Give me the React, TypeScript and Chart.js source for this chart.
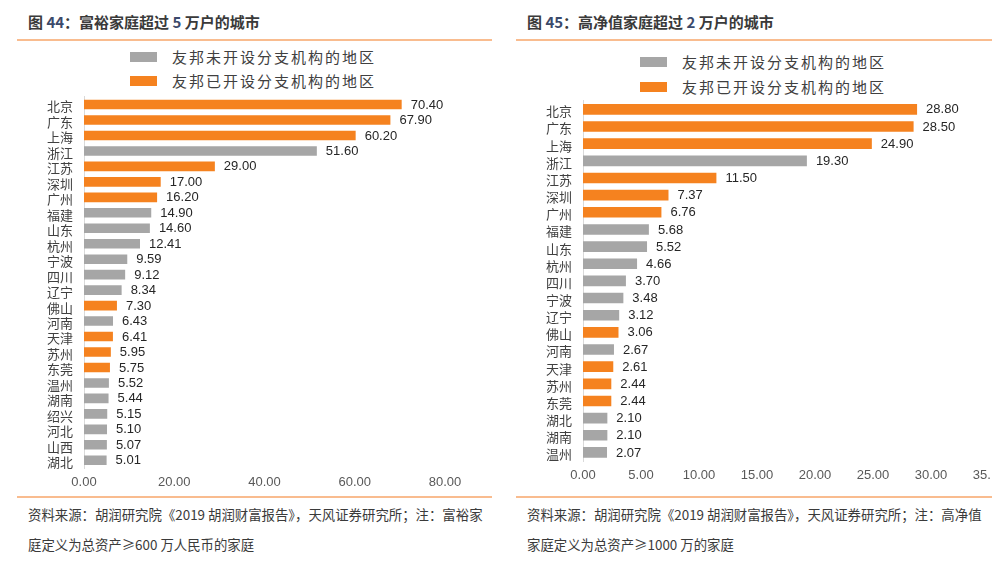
import React, { useEffect, useRef } from "react";
import { Chart, registerables } from "chart.js";

Chart.register(...registerables);

const ORANGE = "#F5821F";
const GRAY = "#A6A6A6";
const LEGEND_LABELS = ["友邦未开设分支机构的地区", "友邦已开设分支机构的地区"];

// 图44 富裕家庭超过5万户的城市
const leftCategories = ["北京", "广东", "上海", "浙江", "江苏", "深圳", "广州", "福建", "山东", "杭州", "宁波", "四川", "辽宁", "佛山", "河南", "天津", "苏州", "东莞", "温州", "湖南", "绍兴", "河北", "山西", "湖北"];
const leftValues = [70.4, 67.9, 60.2, 51.6, 29.0, 17.0, 16.2, 14.9, 14.6, 12.41, 9.59, 9.12, 8.34, 7.3, 6.43, 6.41, 5.95, 5.75, 5.52, 5.44, 5.15, 5.1, 5.07, 5.01];
const leftHasBranch = [1, 1, 1, 0, 1, 1, 1, 0, 0, 0, 0, 0, 0, 1, 0, 1, 1, 1, 0, 0, 0, 0, 0, 0];
const leftAxisMax = 80;
const leftAxisStep = 20;

// 图45 高净值家庭超过2万户的城市
const rightCategories = ["北京", "广东", "上海", "浙江", "江苏", "深圳", "广州", "福建", "山东", "杭州", "四川", "宁波", "辽宁", "佛山", "河南", "天津", "苏州", "东莞", "湖北", "湖南", "温州"];
const rightValues = [28.8, 28.5, 24.9, 19.3, 11.5, 7.37, 6.76, 5.68, 5.52, 4.66, 3.7, 3.48, 3.12, 3.06, 2.67, 2.61, 2.44, 2.44, 2.1, 2.1, 2.07];
const rightHasBranch = [1, 1, 1, 0, 1, 1, 1, 0, 0, 0, 0, 0, 0, 1, 0, 1, 1, 1, 0, 0, 0];
const rightAxisMax = 35;
const rightAxisStep = 5;

const CHART_FONT = "'Liberation Sans', 'Noto Sans CJK SC', sans-serif";
const CJK_FONT = "'Noto Sans CJK SC', 'Liberation Sans', sans-serif";

type PanelProps = {
  categories: string[];
  values: number[];
  hasBranch: number[];
  max: number;
  step: number;
  width: number;
  height: number;
  yAxisWidth: number;
  xAxisHeight: number;
  padTop: number;
  padRight: number;
  yLabelPad: number;
};

const valueLabelPlugin = {
  id: "valueLabels",
  afterDatasetsDraw(chart: any) {
    const ctx = chart.ctx;
    ctx.save();
    ctx.font = `13px ${CHART_FONT}`;
    ctx.fillStyle = "#262626";
    ctx.textAlign = "left";
    ctx.textBaseline = "middle";
    chart.data.datasets.forEach((ds: any, di: number) => {
      const meta = chart.getDatasetMeta(di);
      meta.data.forEach((el: any, i: number) => {
        const v = ds.data[i];
        if (v === null || v === undefined) return;
        ctx.fillText(Number(v).toFixed(2), el.x + 9, el.y + 0.5);
      });
    });
    ctx.restore();
  },
};

function BarPanel(p: PanelProps) {
  const ref = useRef<HTMLCanvasElement | null>(null);
  useEffect(() => {
    if (!ref.current) return;
    const gray = p.values.map((v, i) => (p.hasBranch[i] ? null : v));
    const orange = p.values.map((v, i) => (p.hasBranch[i] ? v : null));
    const chart = new Chart(ref.current, {
      type: "bar",
      data: {
        labels: p.categories,
        datasets: [
          { label: LEGEND_LABELS[0], data: gray as any, backgroundColor: GRAY, grouped: false, barPercentage: 0.62, categoryPercentage: 1 } as any,
          { label: LEGEND_LABELS[1], data: orange as any, backgroundColor: ORANGE, grouped: false, barPercentage: 0.62, categoryPercentage: 1 } as any,
        ],
      },
      options: {
        indexAxis: "y",
        responsive: false,
        animation: false,
        layout: { padding: { top: p.padTop, right: p.padRight, left: 0, bottom: 0 } },
        plugins: { legend: { display: false }, tooltip: { enabled: false } },
        scales: {
          x: {
            min: 0,
            max: p.max,
            grid: { display: false, drawTicks: false },
            border: { display: false },
            ticks: {
              stepSize: p.step,
              padding: 7,
              color: "#595959",
              font: { size: 13, family: CHART_FONT },
              callback: (v: any) => Number(v).toFixed(2),
              maxRotation: 0,
            },
            afterFit: (s: any) => {
              s.height = p.xAxisHeight;
            },
          },
          y: {
            grid: { display: false, drawTicks: false },
            border: { display: true, color: "#D9D9D9", width: 1 },
            ticks: {
              padding: p.yLabelPad,
              color: "#404040",
              font: { size: 13, family: CJK_FONT },
              autoSkip: false,
              labelOffset: 2,
            },
            afterFit: (s: any) => {
              s.width = p.yAxisWidth;
            },
          },
        },
      },
      plugins: [valueLabelPlugin],
    });
    return () => chart.destroy();
  }, []);
  return <canvas ref={ref} width={p.width} height={p.height} style={{ display: "block", width: p.width, height: p.height }} />;
}

function Legend({ left, top, gap }: { left: number; top: number; gap: number }) {
  const colors = [GRAY, ORANGE];
  return (
    <>
      {LEGEND_LABELS.map((t, i) => (
        <div key={t} style={{ position: "absolute", left, top: top + i * gap, height: 20, display: "flex", alignItems: "center" }}>
          <div style={{ width: 27, height: 10, background: colors[i] }} />
          <div style={{ marginLeft: 15, fontFamily: CJK_FONT, fontSize: 15, letterSpacing: 2, color: "#404040", whiteSpace: "nowrap", lineHeight: "20px" }}>{t}</div>
        </div>
      ))}
    </>
  );
}

const numStyle = { color: "#3B4A6B" };

export default function App() {
  const titleStyle: React.CSSProperties = { position: "absolute", top: 12, fontFamily: CJK_FONT, fontWeight: 700, fontSize: 15, color: "#3A3A3A", whiteSpace: "nowrap", lineHeight: "20px" };
  const footStyle: React.CSSProperties = { position: "absolute", fontFamily: CJK_FONT, fontSize: 13.4, color: "#3A3A3A", whiteSpace: "nowrap", lineHeight: "20px" };
  const line = (left: number, top: number, width: number): React.CSSProperties => ({ position: "absolute", left, top, width, height: 2, background: "#F9BC8F" });
  return (
    <div style={{ position: "absolute", left: 0, top: 0, width: 1008, height: 569, background: "#FFFFFF", overflow: "hidden" }}>
      <div style={{ ...titleStyle, left: 28 }}>
        图 <span style={numStyle}>44</span>：富裕家庭超过 <span style={numStyle}>5</span> 万户的城市
      </div>
      <div style={{ ...titleStyle, left: 527 }}>
        图 <span style={numStyle}>45</span>：高净值家庭超过 <span style={numStyle}>2</span> 万户的城市
      </div>
      <div style={line(17, 39, 475)} />
      <div style={line(516, 39, 476)} />

      <Legend left={130} top={47} gap={24} />
      <Legend left={640} top={52} gap={25} />

      <div style={{ position: "absolute", left: 0, top: 78, width: 500, height: 412, overflow: "hidden" }}>
        <BarPanel categories={leftCategories} values={leftValues} hasBranch={leftHasBranch} max={leftAxisMax} step={leftAxisStep}
          width={500} height={412} yAxisWidth={84} xAxisHeight={22} padTop={6} padRight={55} yLabelPad={11} />
      </div>
      <div style={{ position: "absolute", left: 500, top: 82, width: 491, height: 408, overflow: "hidden" }}>
        <BarPanel categories={rightCategories} values={rightValues} hasBranch={rightHasBranch} max={rightAxisMax} step={rightAxisStep}
          width={520} height={408} yAxisWidth={83} xAxisHeight={29} padTop={10} padRight={31} yLabelPad={11} />
      </div>

      <div style={line(17, 496, 475)} />
      <div style={line(516, 496, 476)} />

      <div style={{ ...footStyle, left: 28, top: 504 }}>资料来源：胡润研究院《2019 胡润财富报告》，天风证券研究所；注：富裕家</div>
      <div style={{ ...footStyle, left: 28, top: 534 }}>庭定义为总资产≥600 万人民币的家庭</div>
      <div style={{ ...footStyle, left: 527, top: 504 }}>资料来源：胡润研究院《2019 胡润财富报告》，天风证券研究所；注：高净值</div>
      <div style={{ ...footStyle, left: 527, top: 534 }}>家庭定义为总资产≥1000 万的家庭</div>
    </div>
  );
}
